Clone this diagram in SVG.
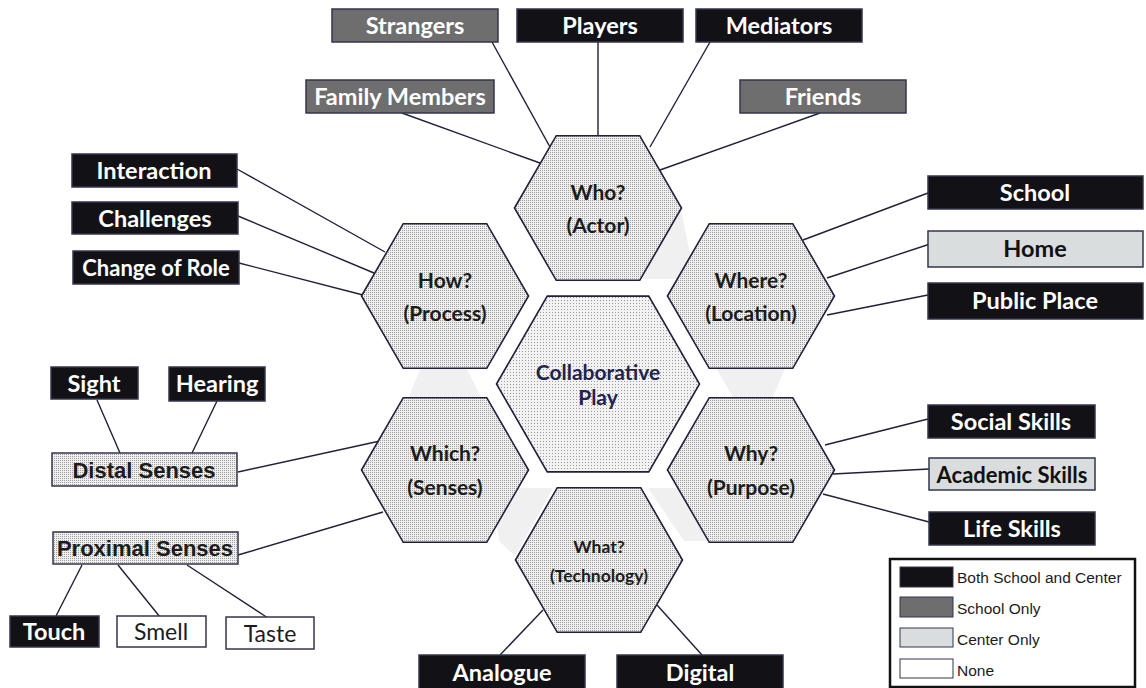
<svg xmlns="http://www.w3.org/2000/svg" width="1146" height="688" viewBox="0 0 1146 688">
<defs>
<pattern id="dots" width="2" height="2" patternUnits="userSpaceOnUse"><rect width="2" height="2" fill="#efefef"/><rect width="1" height="1" fill="#a0a0a0"/></pattern>
<pattern id="dots2" width="3" height="3" patternUnits="userSpaceOnUse"><rect width="3" height="3" fill="#f2f2f2"/><rect width="1" height="1" fill="#9a9a9a"/></pattern>
<style>
.hex{fill:url(#dots);stroke:#20203a;stroke-width:1.6}
.hexc{fill:url(#dots2);stroke:#20203a;stroke-width:1.6}
.ht{font-family:Lato,"Liberation Sans",sans-serif;font-weight:bold;font-size:21px;fill:#1c1c1c;text-anchor:middle}
.blk{fill:#121216;stroke:#34344e;stroke-width:1.5}
.gry{fill:#6e6e6e;stroke:#34344e;stroke-width:1.5}
.lgt{fill:#dadddd;stroke:#34344e;stroke-width:1.5}
.wht{fill:#ffffff;stroke:#34344e;stroke-width:1.5}
.dot{fill:url(#dots);stroke:#34344e;stroke-width:1.5}
.bt{font-family:Lato,"Liberation Sans",sans-serif;font-weight:bold;font-size:23.5px;fill:#ffffff;text-anchor:middle}
.dt{font-family:Lato,"Liberation Sans",sans-serif;font-weight:bold;font-size:23.5px;fill:#111111;text-anchor:middle}
.rt{font-family:Lato,"Liberation Sans",sans-serif;font-size:23px;fill:#1c1c1c;text-anchor:middle}
.at{font-family:"Liberation Sans",Arial,sans-serif;font-weight:bold;font-size:22px;fill:#1c1c1c;text-anchor:middle}
.lt{font-family:"Liberation Sans",Arial,sans-serif;font-size:15.5px;fill:#1c1c1c}
.bg{fill:#f0f0f0}
#connectors line{stroke:#20203a;stroke-width:1.4}
</style>
</defs>
<rect width="1146" height="688" fill="#ffffff"/>
<g id="background">
<polygon class="bg" points="681,210 695,279 630,279"/>
<polygon class="bg" points="715,366 786,366 772,399 734,399"/>
<polygon class="bg" points="421,367 466,367 482,399 408,399"/>
<polygon class="bg" points="488,488 553,488 515,556 500,542"/>
<polygon class="bg" points="648,488 705,488 708,541 684,541"/>
</g>
<g id="connectors">
<line x1="492" y1="42" x2="550" y2="147"/>
<line x1="402" y1="113" x2="540" y2="163"/>
<line x1="598" y1="42" x2="598" y2="136"/>
<line x1="710" y1="42" x2="650" y2="147"/>
<line x1="820" y1="113" x2="660" y2="170"/>
<line x1="237" y1="169" x2="385" y2="252"/>
<line x1="238" y1="216" x2="374" y2="273"/>
<line x1="239" y1="263" x2="363" y2="295"/>
<line x1="928" y1="193" x2="803" y2="240"/>
<line x1="933" y1="243" x2="827" y2="278"/>
<line x1="928" y1="295" x2="827" y2="315"/>
<line x1="928" y1="419" x2="825" y2="445"/>
<line x1="929" y1="469" x2="833" y2="474"/>
<line x1="929" y1="522" x2="823" y2="494"/>
<line x1="97" y1="400" x2="120" y2="453"/>
<line x1="217" y1="401" x2="192" y2="453"/>
<line x1="238" y1="472" x2="380" y2="441"/>
<line x1="238" y1="555" x2="383" y2="512"/>
<line x1="82" y1="565" x2="56" y2="616"/>
<line x1="118" y1="565" x2="160" y2="617"/>
<line x1="187" y1="565" x2="268" y2="618"/>
<line x1="500" y1="655" x2="543" y2="610"/>
<line x1="702" y1="655" x2="657" y2="605"/>
</g>
<g id="hex-who"><polygon class="hex" points="514.5,208 556.25,135.7 639.75,135.7 681.5,208 639.75,280.3 556.25,280.3"/><text class="ht" x="598" y="199.5">Who?</text><text class="ht" x="598" y="232.5">(Actor)</text></g>
<g id="hex-how"><polygon class="hex" points="361.5,296 403.25,223.7 486.75,223.7 528.5,296 486.75,368.3 403.25,368.3"/><text class="ht" x="445" y="287.5">How?</text><text class="ht" x="445" y="320.5">(Process)</text></g>
<g id="hex-where"><polygon class="hex" points="667.5,296 709.25,223.7 792.75,223.7 834.5,296 792.75,368.3 709.25,368.3"/><text class="ht" x="751" y="287.5">Where?</text><text class="ht" x="751" y="320.5">(Location)</text></g>
<g id="hex-which"><polygon class="hex" points="361.5,470 403.25,397.7 486.75,397.7 528.5,470 486.75,542.3 403.25,542.3"/><text class="ht" x="445" y="460.5">Which?</text><text class="ht" x="445" y="494.5">(Senses)</text></g>
<g id="hex-why"><polygon class="hex" points="667.5,470 709.25,397.7 792.75,397.7 834.5,470 792.75,542.3 709.25,542.3"/><text class="ht" x="751" y="460.5">Why?</text><text class="ht" x="751" y="494.5">(Purpose)</text></g>
<g id="hex-what"><polygon class="hex" points="515.5,560 557.25,487.7 640.75,487.7 682.5,560 640.75,632.3 557.25,632.3"/><text class="ht" x="599" y="552.5" style="font-size:17.5px">What?</text><text class="ht" x="599" y="581.5" style="font-size:17.5px">(Technology)</text></g>
<g id="hex-center"><polygon class="hexc" points="496.5,384 547.25,296.1 648.75,296.1 699.5,384 648.75,471.9 547.25,471.9"/><text class="ht" x="598" y="379.5" style="fill:#22224e">Collaborative</text><text class="ht" x="598" y="404.5" style="fill:#22224e">Play</text></g>
<g id="strangers"><rect class="gry" x="332" y="9" width="166" height="33"/><text class="bt" x="415" y="34">Strangers</text></g>
<g id="players"><rect class="blk" x="517" y="9" width="166" height="33"/><text class="bt" x="600" y="34">Players</text></g>
<g id="mediators"><rect class="blk" x="696" y="9" width="166" height="33"/><text class="bt" x="779" y="34">Mediators</text></g>
<g id="family"><rect class="gry" x="306" y="80" width="188" height="33"/><text class="bt" x="400" y="105">Family Members</text></g>
<g id="friends"><rect class="gry" x="740" y="80" width="166" height="33"/><text class="bt" x="823" y="105">Friends</text></g>
<g id="interaction"><rect class="blk" x="72" y="154" width="165" height="33"/><text class="bt" x="154" y="179">Interaction</text></g>
<g id="challenges"><rect class="blk" x="72" y="202" width="166" height="32"/><text class="bt" x="155" y="227">Challenges</text></g>
<g id="change"><rect class="blk" x="73" y="251" width="166" height="33"/><text class="bt" x="156" y="275.5" style="font-size:22px">Change of Role</text></g>
<g id="school"><rect class="blk" x="928" y="176" width="215" height="33"/><text class="bt" x="1035" y="201">School</text></g>
<g id="home"><rect class="lgt" x="928" y="231" width="215" height="36"/><text class="dt" x="1035" y="257">Home</text></g>
<g id="public"><rect class="blk" x="928" y="283" width="215" height="36"/><text class="bt" x="1035" y="309">Public Place</text></g>
<g id="social"><rect class="blk" x="928" y="405" width="167" height="33"/><text class="bt" x="1011" y="430">Social Skills</text></g>
<g id="academic"><rect class="lgt" x="929" y="458" width="166" height="32"/><text class="dt" x="1012" y="482.5" style="font-size:22px">Academic Skills</text></g>
<g id="life"><rect class="blk" x="929" y="512" width="166" height="33"/><text class="bt" x="1012" y="537">Life Skills</text></g>
<g id="sight"><rect class="blk" x="51" y="367" width="87" height="32"/><text class="bt" x="94" y="392">Sight</text></g>
<g id="hearing"><rect class="blk" x="169" y="367" width="96" height="34"/><text class="bt" x="217" y="392">Hearing</text></g>
<g id="distal"><rect class="dot" x="52" y="453" width="185" height="33"/><text class="at" x="144" y="477.5">Distal Senses</text></g>
<g id="proximal"><rect class="dot" x="53" y="532" width="185" height="32"/><text class="at" x="145" y="556">Proximal Senses</text></g>
<g id="touch"><rect class="blk" x="10" y="616" width="89" height="31"/><text class="bt" x="54" y="640">Touch</text></g>
<g id="smell"><rect class="wht" x="117" y="616" width="89" height="31"/><text class="rt" x="161" y="639.5">Smell</text></g>
<g id="taste"><rect class="wht" x="226" y="617" width="88" height="32"/><text class="rt" x="270" y="641.5">Taste</text></g>
<g id="analogue"><rect class="blk" x="419" y="655" width="166" height="34"/><text class="bt" x="502" y="681">Analogue</text></g>
<g id="digital"><rect class="blk" x="617" y="655" width="166" height="34"/><text class="bt" x="700" y="681">Digital</text></g>
<g id="legend">
<rect x="890" y="559" width="245" height="128" fill="#ffffff" stroke="#111111" stroke-width="2.5"/>
<rect x="900" y="567" width="53" height="20" fill="#121216" stroke="#34344e" stroke-width="1"/>
<rect x="900" y="597" width="53" height="20" fill="#6e6e6e" stroke="#34344e" stroke-width="1"/>
<rect x="900" y="628" width="53" height="19" fill="#dadddd" stroke="#34344e" stroke-width="1"/>
<rect x="900" y="659" width="53" height="19" fill="#ffffff" stroke="#34344e" stroke-width="1"/>
<text class="lt" x="957" y="583">Both School and Center</text>
<text class="lt" x="957" y="614">School Only</text>
<text class="lt" x="957" y="645">Center Only</text>
<text class="lt" x="957" y="676">None</text>
</g>
</svg>
